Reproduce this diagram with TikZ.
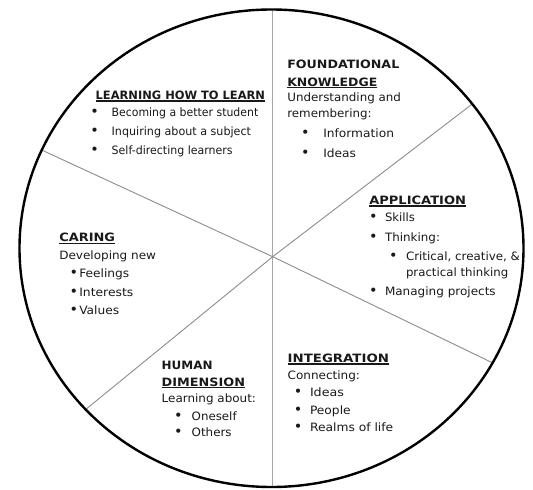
\documentclass[tikz,border=0pt]{standalone}
\usepackage{graphicx}
\usepackage{fontspec}
\setmainfont{DejaVu Sans}
\newcommand\bul[2]{\llap{\makebox[0pt]{\scalebox{1.25}{\textbullet}}\hspace*{#1pt}}#2}
\newcommand\myul[1]{\setbox0\hbox{#1}\rlap{\rule[-2.2pt]{\wd0}{1.1pt}}\box0}
\newcommand\fw[2]{\resizebox{#1pt}{\height}{#2}}
\begin{document}
\begin{tikzpicture}[x=1pt,y=-1pt,
  txt/.style={anchor=base west,inner sep=0pt,outer sep=0pt,font=\fontsize{11.5}{13}\selectfont,text=black!90},
  ttl/.style={txt,font=\fontsize{11.5}{13}\selectfont\bfseries},
  rim/.style={line width=2.4pt},
  spoke/.style={draw=black!45,line width=0.9pt},
  vspoke/.style={draw=black!35,line width=1.4pt}]
\useasboundingbox (0,0) rectangle (533,490);
\coordinate (C) at (271.5,248.25);
\coordinate (O) at (272.7,256.7);
\coordinate (Vt) at (272.7,0);
\coordinate (Vb) at (272.7,490);
\coordinate (UR) at (570.2,29.1);
\coordinate (LL) at (-8.9,486.7);
\coordinate (UL) at (-67.3,99.7);
\coordinate (LR) at (606.2,417.7);
\begin{scope}
  \clip (C) ellipse [x radius=252pt, y radius=238.75pt];
  \draw[vspoke] (Vt) -- (Vb);
  \draw[spoke] (O) -- (UR);
  \draw[spoke] (O) -- (LL);
  \draw[spoke] (O) -- (UL);
  \draw[spoke] (O) -- (LR);
\end{scope}
\draw[rim] (C) ellipse [x radius=252pt, y radius=238.75pt];

% Learning how to learn
\node[ttl] (l0) at (95.7,99.3) {\myul{\fw{169.3}{LEARNING HOW TO LEARN}}};
\node[txt] (l1) at (111.7,116.7) {\bul{17}{\fw{146.6}{Becoming a better student}}};
\node[txt] (l2) at (111.7,135.7) {\bul{17}{\fw{139.3}{Inquiring about a subject}}};
\node[txt] (l3) at (111.7,154.3) {\bul{17}{\fw{121}{Self-directing learners}}};

% Foundational knowledge
\node[ttl] (f0) at (287.3,68.3) {\fw{112}{FOUNDATIONAL}};
\node[ttl] (f1) at (287.3,86) {\myul{\fw{90}{KNOWLEDGE}}};
\node[txt] (f2) at (287.3,101.7) {\fw{113.7}{Understanding and}};
\node[txt] (f3) at (287.3,117.5) {\fw{84.3}{remembering:}};
\node[txt] (f4) at (323.3,137.7) {\bul{18}{\fw{70.7}{Information}}};
\node[txt] (f5) at (323.3,157) {\bul{18}{\fw{32.7}{Ideas}}};

% Application
\node[ttl] (a0) at (369.3,204.3) {\myul{\fw{96.7}{APPLICATION}}};
\node[txt] (a1) at (385,221.7) {\bul{11.7}{\fw{30}{Skills}}};
\node[txt] (a2) at (385,241) {\bul{11.7}{\fw{55}{Thinking:}}};
\node[txt] (a3) at (406,260) {\bul{12.7}{\fw{114}{Critical, creative, \&}}};
\node[txt] (a4) at (406,276) {\fw{102.3}{practical thinking}};
\node[txt] (a5) at (385,295) {\bul{11.7}{\fw{110.7}{Managing projects}}};

% Caring
\node[ttl] (c0) at (59.3,241.7) {\myul{\fw{55.7}{CARING}}};
\node[txt] (c1) at (59.3,259.3) {\fw{96.7}{Developing new}};
\node[txt] (c2) at (79.3,277.3) {\bul{5.5}{\fw{50}{Feelings}}};
\node[txt] (c3) at (79.3,296) {\bul{5.5}{\fw{54}{Interests}}};
\node[txt] (c4) at (79.3,314.3) {\bul{5.5}{\fw{40}{Values}}};

% Human dimension
\node[ttl] (h0) at (161.7,369.3) {\fw{51}{HUMAN}};
\node[ttl] (h1) at (161.7,386) {\myul{\fw{83.3}{DIMENSION}}};
\node[txt] (h2) at (161.7,402.7) {\fw{94.3}{Learning about:}};
\node[txt] (h3) at (191.7,420) {\bul{13.4}{\fw{45}{Oneself}}};
\node[txt] (h4) at (191.7,436) {\bul{13.4}{\fw{40}{Others}}};

% Integration
\node[ttl] (i0) at (287.7,362.3) {\myul{\fw{101.3}{INTEGRATION}}};
\node[txt] (i1) at (287.7,379.3) {\fw{72.3}{Connecting:}};
\node[txt] (i2) at (310,396.7) {\bul{12}{\fw{34}{Ideas}}};
\node[txt] (i3) at (310,414) {\bul{12}{\fw{40.7}{People}}};
\node[txt] (i4) at (310,431.7) {\bul{12}{\fw{83.3}{Realms of life}}};
\end{tikzpicture}
\end{document}
